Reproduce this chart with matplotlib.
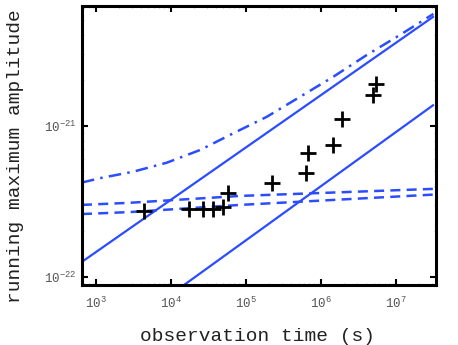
import numpy as np
import matplotlib
matplotlib.use("Agg")
import matplotlib.pyplot as plt
from matplotlib.ticker import LogLocator, FixedLocator

plt.rcParams['font.family'] = ['Liberation Mono', 'DejaVu Sans Mono']
plt.rcParams['mathtext.default'] = 'regular'

# measured running maximum (crosses)
obs_t = [4.37e3, 1.74e4, 2.70e4, 3.66e4, 4.89e4, 5.75e4, 2.20e5, 6.25e5,
         6.65e5, 1.46e6, 1.92e6, 4.98e6, 5.41e6]
obs_h = [2.74e-22, 2.81e-22, 2.81e-22, 2.83e-22, 2.92e-22, 3.61e-22, 4.18e-22,
         4.91e-22, 6.65e-22, 7.48e-22, 1.11e-21, 1.60e-21, 1.90e-21]

# solid reference lines (straight in log-log)
solid1_t = [650, 3.1e7]
solid1_h = [1.26e-22, 5.27e-21]
solid2_t = [1.49e4, 3.1e7]
solid2_h = [8.85e-23, 1.37e-21]

# dashed curves
dash_up_t = [650, 2.84e3, 8.32e4, 3.11e7]
dash_up_h = [3.00e-22, 3.10e-22, 3.44e-22, 3.83e-22]
dash_lo_t = [650, 2.84e3, 8.32e4, 3.11e7]
dash_lo_h = [2.61e-22, 2.69e-22, 3.00e-22, 3.51e-22]

# dash-dot curve
dd_t = [650, 1.13e3, 3.14e3, 8.77e3, 2.44e4, 6.78e4, 1.89e5, 5.25e5,
        1.46e6, 4.06e6, 1.13e7, 3.14e7]
dd_h = [4.22e-22, 4.51e-22, 4.98e-22, 5.71e-22, 6.93e-22, 8.95e-22, 1.15e-21,
        1.56e-21, 2.12e-21, 2.95e-21, 4.01e-21, 5.52e-21]

xticks = [1e3, 1e4, 1e5, 1e6, 1e7]
xtick_labels = [r'$10^{3}$', r'$10^{4}$', r'$10^{5}$', r'$10^{6}$', r'$10^{7}$']
yticks = [1e-22, 1e-21]
ytick_labels = [r'$10^{-22}$', r'$10^{-21}$']

blue = '#2b4cff'

fig = plt.figure(figsize=(4.58, 3.45), dpi=100)
ax = fig.add_axes([0.179, 0.174, 0.773, 0.809])

ax.plot(solid1_t, solid1_h, '-', color=blue, lw=1.6)
ax.plot(solid2_t, solid2_h, '-', color=blue, lw=1.6)
ax.plot(dash_up_t, dash_up_h, '--', color=blue, lw=1.8, dashes=(4, 2.5))
ax.plot(dash_lo_t, dash_lo_h, '--', color=blue, lw=1.8, dashes=(4, 2.5))
ax.plot(dd_t, dd_h, '-.', color=blue, lw=1.8, dashes=(5, 2.5, 1, 2.5))
ax.plot(obs_t, obs_h, '+', color='black', ms=11, mew=2, ls='none')

ax.set_xscale('log')
ax.set_yscale('log')
ax.set_xlim(650, 3.4e7)
ax.set_ylim(8.85e-23, 6.24e-21)

ax.xaxis.set_major_locator(FixedLocator(xticks))
ax.set_xticklabels(xtick_labels)
ax.yaxis.set_major_locator(FixedLocator(yticks))
ax.set_yticklabels(ytick_labels)
ax.xaxis.set_minor_locator(LogLocator(base=10, subs=np.arange(2, 10)))
ax.yaxis.set_minor_locator(LogLocator(base=10, subs=np.arange(2, 10)))

ax.tick_params(which='major', direction='in', length=4, width=1.5, color='black',
               top=True, right=True, labelsize=9, labelcolor='#555555')
ax.tick_params(axis='x', which='major', pad=8)
ax.tick_params(axis='y', which='major', pad=4)
ax.tick_params(which='minor', direction='in', length=1.5, width=0.8, color='#bbbbbb',
               top=True, right=True, labelbottom=False, labelleft=False)

for s in ax.spines.values():
    s.set_linewidth(2.2)

ax.set_xlabel('observation time (s)', fontsize=14, color='#222222')
ax.set_ylabel('running maximum amplitude', fontsize=14, color='#222222')
ax.xaxis.set_label_coords(0.496, -0.155)
ax.yaxis.set_label_coords(-0.165, 0.462)

fig.savefig('out.png', dpi=100)
